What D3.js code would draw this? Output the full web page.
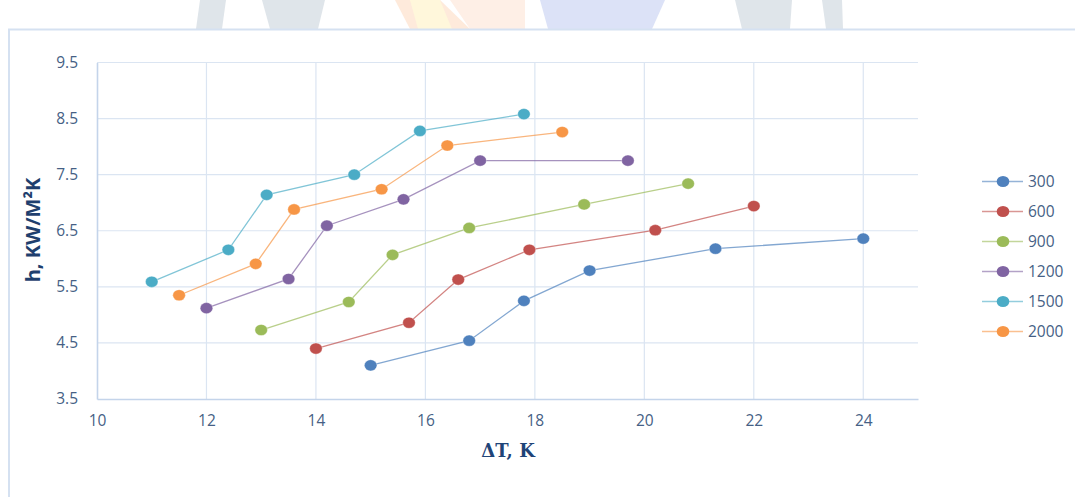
<!DOCTYPE html>
<html>
<head>
<meta charset="utf-8">
<script src="https://cdn.jsdelivr.net/npm/d3@7"></script>
<style>
  html, body { margin: 0; padding: 0; background: #ffffff; }
  svg { display: block; }
</style>
</head>
<body>
<svg id="chart" width="1075" height="497"></svg>
<script>
// Heat transfer coefficient vs. wall superheat, one series per heat flux level
const seriesNames = ["300", "600", "900", "1200", "1500", "2000"];
const seriesColors = ["#4F81BD", "#C0504D", "#9BBB59", "#8064A2", "#4BACC6", "#F79646"];

const dT300  = [15.0, 16.8, 17.8, 19.0, 21.3, 24.0];
const h300   = [4.10, 4.54, 5.25, 5.79, 6.18, 6.36];
const dT600  = [14.0, 15.7, 16.6, 17.9, 20.2, 22.0];
const h600   = [4.40, 4.86, 5.63, 6.16, 6.51, 6.94];
const dT900  = [13.0, 14.6, 15.4, 16.8, 18.9, 20.8];
const h900   = [4.73, 5.23, 6.07, 6.55, 6.97, 7.34];
const dT1200 = [12.0, 13.5, 14.2, 15.6, 17.0, 19.7];
const h1200  = [5.12, 5.64, 6.59, 7.06, 7.75, 7.75];
const dT1500 = [11.0, 12.4, 13.1, 14.7, 15.9, 17.8];
const h1500  = [5.59, 6.16, 7.14, 7.50, 8.28, 8.58];
const dT2000 = [11.5, 12.9, 13.6, 15.2, 16.4, 18.5];
const h2000  = [5.35, 5.91, 6.88, 7.24, 8.02, 8.26];

const xTicks = [10, 12, 14, 16, 18, 20, 22, 24];
const yTicks = [3.5, 4.5, 5.5, 6.5, 7.5, 8.5, 9.5];

const xs = [dT300, dT600, dT900, dT1200, dT1500, dT2000];
const ys = [h300, h600, h900, h1200, h1500, h2000];
const series = seriesNames.map((name, i) => ({
  name, color: seriesColors[i],
  points: xs[i].map((x, j) => ({ x, y: ys[i][j] }))
}));

const svg = d3.select("#chart");
const W = 1075, H = 497;
const plot = { left: 97, right: 918, top: 62.5, bottom: 399 };

// Faint logo shapes along the top edge
const wm = svg.append("g").attr("class", "watermark");
wm.append("path").attr("d", "M200,0 L226,0 L222,29 L196,29 Z").attr("fill", "#dfe5ea");
wm.append("path").attr("d", "M262,0 L325,0 L318,29 L270,29 Z").attr("fill", "#dfe5ea");
wm.append("path").attr("d", "M395,0 L440,0 L470,29 L410,29 Z").attr("fill", "#feeadb");
wm.append("path").attr("d", "M410,0 L440,0 L452,29 L418,29 Z").attr("fill", "#fff7db");
wm.append("path").attr("d", "M450,0 L525,0 L525,29 L470,29 Z").attr("fill", "#feefe6");
wm.append("path").attr("d", "M540,0 L665,0 L652,29 L548,29 Z").attr("fill", "#dce2f7");
wm.append("path").attr("d", "M735,0 L792,0 L790,29 L742,29 Z").attr("fill", "#dfe5ea");
wm.append("path").attr("d", "M822,0 L842,0 L843,29 L826,29 Z").attr("fill", "#dfe5ea");

// Chart frame
svg.append("rect").attr("x", 9).attr("y", 29.5).attr("width", W + 10).attr("height", H)
  .attr("fill", "#ffffff").attr("stroke", "#d5e1f1").attr("stroke-width", 2);

const x = d3.scaleLinear().domain([10, 25]).range([plot.left, plot.right]);
const y = d3.scaleLinear().domain([3.5, 9.5]).range([plot.bottom, plot.top]);

// Gridlines
const grid = svg.append("g");
grid.selectAll("line.h").data(yTicks.slice(1)).join("line")
  .attr("x1", plot.left).attr("x2", plot.right)
  .attr("y1", d => y(d)).attr("y2", d => y(d))
  .attr("stroke", "#dbe5f2").attr("stroke-width", 1.2);
grid.selectAll("line.v").data(xTicks.slice(1)).join("line")
  .attr("y1", plot.top).attr("y2", plot.bottom)
  .attr("x1", d => x(d)).attr("x2", d => x(d))
  .attr("stroke", "#dbe5f2").attr("stroke-width", 1.2);

// Axes
const tickFont = "'Open Sans', sans-serif";
const labelColor = "#465f85";
const xAxis = svg.append("g").attr("transform", `translate(0,${plot.bottom})`)
  .call(d3.axisBottom(x).tickValues(xTicks).tickFormat(d3.format("d")).tickSize(0).tickPadding(16));
const yAxis = svg.append("g").attr("transform", `translate(${plot.left},0)`)
  .call(d3.axisLeft(y).tickValues(yTicks).tickFormat(d3.format(".1f")).tickSize(0).tickPadding(19));
[xAxis, yAxis].forEach(a => {
  a.select(".domain").attr("stroke", "#c4d4ea").attr("stroke-width", 1.6);
  a.selectAll("text").attr("font-family", tickFont).attr("font-size", 15.5).attr("fill", labelColor);
});

// Series lines and markers
const line = d3.line().x(d => x(d.x)).y(d => y(d.y));
const sg = svg.append("g");
series.forEach(s => {
  sg.append("path").datum(s.points).attr("d", line)
    .attr("fill", "none").attr("stroke", s.color).attr("stroke-width", 1.3).attr("stroke-opacity", 0.7);
  sg.selectAll(null).data(s.points).join("ellipse")
    .attr("cx", d => x(d.x)).attr("cy", d => y(d.y))
    .attr("rx", 6.3).attr("ry", 5.6)
    .attr("fill", s.color).attr("stroke", "#ffffff").attr("stroke-width", 0.6).attr("stroke-opacity", 0.6);
});

// Axis titles
svg.append("text").attr("x", 508).attr("y", 457).attr("text-anchor", "middle")
  .attr("font-family", "'DejaVu Serif', 'Liberation Serif', serif").attr("font-weight", "bold")
  .attr("font-size", 18).attr("fill", "#1f4478").text("ΔT, K");
svg.append("text").attr("transform", "translate(40,230) rotate(-90)").attr("text-anchor", "middle")
  .attr("font-family", "'Open Sans', sans-serif").attr("font-weight", "bold")
  .attr("font-size", 20).attr("fill", "#1f3f6e").text("h, KW/M²K");

// Legend
const legend = svg.append("g").attr("transform", "translate(982,181.5)");
const row = legend.selectAll("g").data(series).join("g")
  .attr("transform", (d, i) => `translate(0,${i * 30})`);
row.append("line").attr("x1", 0).attr("x2", 41).attr("y1", 0).attr("y2", 0)
  .attr("stroke", d => d.color).attr("stroke-width", 1.6).attr("stroke-opacity", 0.6);
row.append("ellipse").attr("cx", 21).attr("cy", 0).attr("rx", 6.3).attr("ry", 5.6)
  .attr("fill", d => d.color);
row.append("text").attr("x", 46).attr("y", 0).attr("dy", "0.35em")
  .attr("font-family", tickFont).attr("font-size", 15.5).attr("fill", labelColor)
  .text(d => d.name);
</script>
</body>
</html>
